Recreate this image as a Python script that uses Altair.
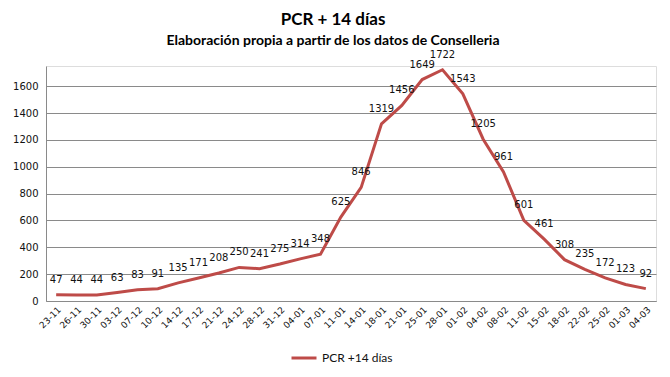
import altair as alt
import pandas as pd

fechas = ["23-11", "26-11", "30-11", "03-12", "07-12", "10-12", "14-12", "17-12",
          "21-12", "24-12", "28-12", "31-12", "04-01", "07-01", "11-01", "14-01",
          "18-01", "21-01", "25-01", "28-01", "01-02", "04-02", "08-02", "11-02",
          "15-02", "18-02", "22-02", "25-02", "01-03", "04-03"]
valores = [47, 44, 44, 63, 83, 91, 135, 171, 208, 250, 241, 275, 314, 348, 625,
           846, 1319, 1456, 1649, 1722, 1543, 1205, 961, 601, 461, 308, 235, 172,
           123, 92]
serie = "PCR +14 días"
y_ticks = [0, 200, 400, 600, 800, 1000, 1200, 1400, 1600]

df = pd.DataFrame({"fecha": fechas, "valor": valores, "serie": [serie] * len(fechas)})

grid_col = "#8a8a8a"

base = alt.Chart(df).encode(
    x=alt.X("fecha:N", sort=fechas,
            scale=alt.Scale(type="point", padding=0.5),
            axis=alt.Axis(title=None, labelAngle=-45, grid=False, ticks=False,
                          labelFont="DejaVu Sans", labelFontSize=9, labelColor="#111",
                          labelPadding=4, domainColor=grid_col, labelOverlap=False)),
    y=alt.Y("valor:Q",
            scale=alt.Scale(domain=[0, 1750], nice=False),
            axis=alt.Axis(title=None, values=y_ticks, format="d", grid=True,
                          gridColor=grid_col, ticks=False, domainColor=grid_col,
                          labelFont="DejaVu Sans", labelFontSize=10, labelColor="#111",
                          labelPadding=8)),
)

line = base.mark_line(strokeWidth=3).encode(
    color=alt.Color("serie:N", scale=alt.Scale(range=["#BE4B48"]),
                    legend=alt.Legend(title=None, orient="none", legendX=244, legendY=278,
                                      symbolType="stroke", symbolSize=625,
                                      symbolStrokeWidth=3, labelFont="Lato",
                                      labelFontSize=12, labelColor="#111",
                                      labelOffset=4, padding=0))
)

labels = base.mark_text(dy=-15, font="DejaVu Sans", fontSize=10, color="#111").encode(
    text="valor:Q"
)

chart = (line + labels).properties(
    width=610,
    height=235,
    title=alt.Title(text="PCR + 14 días",
                    subtitle="Elaboración propia a partir de los datos de Conselleria",
                    font="Lato", fontSize=17, fontWeight="bold", color="black",
                    subtitleFont="Lato", subtitleFontSize=14, subtitleFontWeight="bold",
                    subtitleColor="black", anchor="middle", dx=-18, offset=1,
                    subtitlePadding=5),
    autosize=alt.AutoSizeParams(type="none"),
    padding={"left": 38, "top": 58, "right": 6, "bottom": 68},
).configure_view(stroke=None).configure(background="white")

chart.save("out.html", embed_options={"renderer": "svg", "actions": False})
